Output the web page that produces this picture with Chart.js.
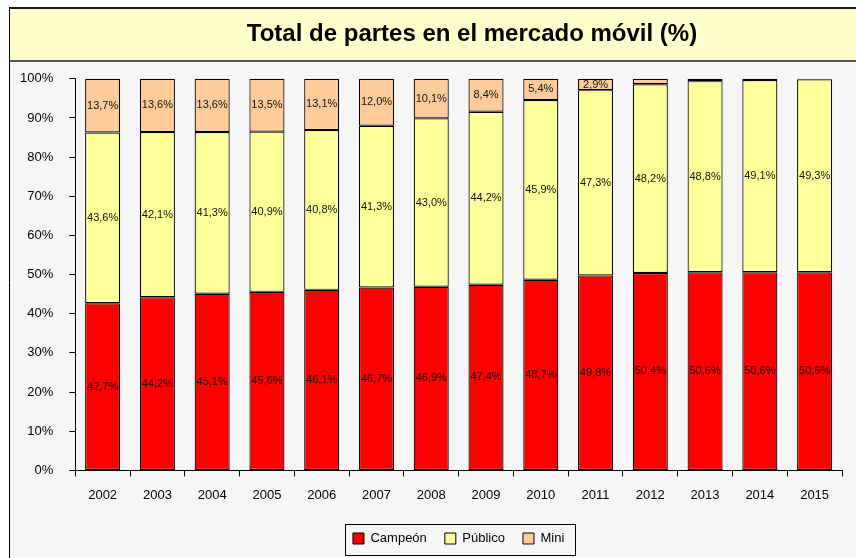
<!DOCTYPE html>
<html>
<head>
<meta charset="utf-8">
<script src="https://cdn.jsdelivr.net/npm/chart.js@4"></script>
<style>
  html, body { margin: 0; padding: 0; background: #ffffff; }
  #wrap { width: 856px; height: 558px; }
</style>
</head>
<body>
<div id="wrap"><canvas id="c" width="856" height="558"></canvas></div>
<script>
const years = ['2002','2003','2004','2005','2006','2007','2008','2009','2010','2011','2012','2013','2014','2015'];
const campeon = [42.7,44.2,45.1,45.6,46.1,46.7,46.9,47.4,48.7,49.8,50.4,50.6,50.6,50.6];
const publico = [43.6,42.1,41.3,40.9,40.8,41.3,43.0,44.2,45.9,47.3,48.2,48.8,49.1,49.3];
const mini    = [13.7,13.6,13.6,13.5,13.1,12.0,10.1,8.4,5.4,2.9,1.4,0.6,0.3,0.1];
const yTicks  = [0,10,20,30,40,50,60,70,80,90,100];
const titleText = 'Total de partes en el mercado móvil (%)';

const FONT = '"Liberation Sans", Arial, sans-serif';

// 100% stacked: normalise each year to its total
const totals = years.map((_, i) => campeon[i] + publico[i] + mini[i]);
const pct = arr => arr.map((v, i) => v / totals[i] * 100);
const raw = [campeon, publico, mini];

const framePlugin = {
  id: 'frame',
  afterLayout(chart) {
    // the title box extends past the right edge, so its centred text sits right of the canvas centre
    const tb = chart.titleBlock;
    if (tb) { tb.left += 49; tb.right += 49; }
  },
  beforeDraw(chart) {
    const ctx = chart.ctx;
    const W = chart.width, H = chart.height;
    ctx.save();
    ctx.fillStyle = '#ffffff';
    ctx.fillRect(0, 0, W, H);
    ctx.fillStyle = '#f6f6f6';
    ctx.fillRect(9, 61, W - 9, H - 61);
    ctx.fillStyle = '#ffffcc';
    ctx.fillRect(9, 8, W - 9, 53);
    ctx.strokeStyle = '#1a1a1a';
    ctx.lineWidth = 2;
    ctx.beginPath(); ctx.moveTo(9, 8); ctx.lineTo(W, 8); ctx.stroke();
    ctx.strokeStyle = '#555555';
    ctx.lineWidth = 2;
    ctx.beginPath(); ctx.moveTo(9, 61); ctx.lineTo(W, 61); ctx.stroke();
    ctx.strokeStyle = '#000000';
    ctx.lineWidth = 1;
    ctx.beginPath(); ctx.moveTo(9.5, 7); ctx.lineTo(9.5, H); ctx.stroke();
    ctx.restore();
  },
  afterDraw(chart) {
    const lg = chart.legend;
    if (!lg || !lg.legendHitBoxes || !lg.legendHitBoxes.length) return;
    const hb = lg.legendHitBoxes;
    const first = hb[0], last = hb[hb.length - 1];
    const cy = first.top + first.height / 2;
    const ctx = chart.ctx;
    ctx.save();
    ctx.strokeStyle = '#000000';
    ctx.lineWidth = 1;
    const l = Math.round(first.left - 8) + 0.5;
    const r = Math.round(last.left + last.width + 11) + 0.5;
    const t = Math.round(cy - 15) + 0.5;
    const b = Math.round(cy + 16) + 0.5;
    ctx.strokeRect(l, t, r - l, b - t);
    ctx.restore();
  }
};

const labelPlugin = {
  id: 'segLabels',
  afterDatasetsDraw(chart) {
    const ctx = chart.ctx;
    ctx.save();
    ctx.font = '11px ' + FONT;
    ctx.fillStyle = '#111111';
    ctx.textAlign = 'center';
    ctx.textBaseline = 'middle';
    chart.data.datasets.forEach((ds, di) => {
      const meta = chart.getDatasetMeta(di);
      meta.data.forEach((bar, i) => {
        const v = raw[di][i];
        if (v < 2) return;
        const y = (bar.y + bar.base) / 2;
        ctx.fillText(v.toFixed(1).replace('.', ',') + '%', bar.x, y);
      });
    });
    ctx.restore();
  }
};

new Chart(document.getElementById('c'), {
  type: 'bar',
  data: {
    labels: years,
    datasets: [
      { label: 'Campeón', data: pct(campeon), backgroundColor: '#ff0000', borderColor: '#000000', borderWidth: 1.2, borderSkipped: false },
      { label: 'Público', data: pct(publico), backgroundColor: '#ffff99', borderColor: '#000000', borderWidth: 1.2, borderSkipped: false },
      { label: 'Mini', data: pct(mini), backgroundColor: '#ffcc99', borderColor: '#000000', borderWidth: 1.2, borderSkipped: false }
    ]
  },
  options: {
    responsive: false,
    devicePixelRatio: 1,
    animation: false,
    layout: { padding: { left: 4, right: 14, top: 0, bottom: 3 } },
    datasets: { bar: { categoryPercentage: 0.64, barPercentage: 1.0 } },
    plugins: {
      title: {
        display: true,
        text: titleText,
        color: '#000000',
        font: { family: FONT, size: 24, weight: 'bold' },
        padding: { top: 20, bottom: 30 }
      },
      legend: {
        position: 'bottom',
        fullSize: false,
        labels: {
          color: '#000000',
          font: { family: FONT, size: 13 },
          boxWidth: 11,
          boxHeight: 11,
          padding: 18,
          generateLabels(chart) {
            return chart.data.datasets.map((ds, i) => ({
              text: ds.label,
              fillStyle: ds.backgroundColor,
              strokeStyle: '#000000',
              lineWidth: 1,
              hidden: false,
              datasetIndex: i,
              fontColor: '#000000'
            }));
          }
        }
      },
      tooltip: { enabled: false }
    },
    scales: {
      x: {
        stacked: true,
        border: { display: true, color: '#000000', width: 1 },
        grid: { display: true, drawOnChartArea: false, drawTicks: true, tickLength: 6, color: '#000000', offset: true },
        ticks: { color: '#000000', font: { family: FONT, size: 13 }, padding: 11, maxRotation: 0 }
      },
      y: {
        stacked: true,
        min: 0,
        max: 100,
        afterBuildTicks(scale) { scale.ticks = yTicks.map(v => ({ value: v })); },
        border: { display: true, color: '#000000', width: 1 },
        grid: { display: true, drawOnChartArea: false, drawTicks: true, tickLength: 6, color: '#000000' },
        ticks: { color: '#000000', font: { family: FONT, size: 13 }, padding: 16, callback: v => v + '%' }
      }
    }
  },
  plugins: [framePlugin, labelPlugin]
});
</script>
</body>
</html>
